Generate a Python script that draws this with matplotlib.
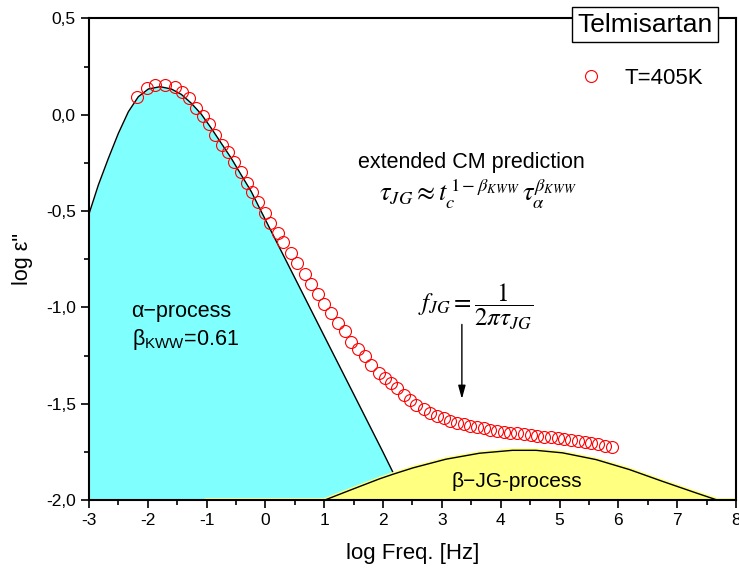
import matplotlib
matplotlib.use('Agg')
import matplotlib.pyplot as plt
from matplotlib.ticker import MultipleLocator, FuncFormatter

plt.rcParams['font.family'] = ['Liberation Sans', 'DejaVu Sans']
plt.rcParams['mathtext.fontset'] = 'stix'
# used only by the texts that ask for math_fontfamily='custom'
plt.rcParams['mathtext.rm'] = 'Liberation Sans'
plt.rcParams['mathtext.it'] = 'Liberation Sans'
plt.rcParams['mathtext.sf'] = 'Liberation Sans'

# --- measured points (T = 405 K) ---
log_f = [-2.19, -2.02, -1.87, -1.70, -1.54, -1.41, -1.30, -1.18, -1.06, -0.96,
         -0.85, -0.73, -0.64, -0.53, -0.41, -0.31, -0.22, -0.13, -0.01, 0.08,
         0.21, 0.30, 0.44, 0.54, 0.67, 0.78, 0.89, 1.00, 1.12, 1.23,
         1.35, 1.46, 1.57, 1.69, 1.80, 1.93, 2.03, 2.13, 2.23, 2.36,
         2.45, 2.56, 2.69, 2.80, 2.91, 3.03, 3.14, 3.25, 3.37, 3.48,
         3.59, 3.71, 3.82, 3.93, 4.05, 4.16, 4.28, 4.39, 4.51, 4.62,
         4.74, 4.85, 4.97, 5.08, 5.20, 5.31, 5.43, 5.54, 5.66, 5.78, 5.90]
log_eps = [0.094, 0.138, 0.155, 0.155, 0.143, 0.120, 0.089, 0.037, -0.005, -0.049,
           -0.105, -0.157, -0.195, -0.247, -0.299, -0.352, -0.403, -0.453, -0.510, -0.560,
           -0.612, -0.659, -0.719, -0.771, -0.827, -0.878, -0.930, -0.982, -1.031, -1.079,
           -1.123, -1.178, -1.218, -1.252, -1.299, -1.338, -1.367, -1.393, -1.420, -1.453,
           -1.481, -1.507, -1.529, -1.547, -1.562, -1.576, -1.588, -1.599, -1.607, -1.616,
           -1.623, -1.628, -1.637, -1.641, -1.645, -1.650, -1.654, -1.658, -1.662, -1.667,
           -1.671, -1.675, -1.680, -1.685, -1.690, -1.695, -1.700, -1.706, -1.711, -1.717, -1.723]

# --- alpha process (KWW) curve ---
alpha_f = [-3.0, -2.84, -2.67, -2.50, -2.33, -2.16, -1.99, -1.79, -1.60, -1.43,
           -1.26, -1.09, -0.92, -0.75, -0.58, -0.41, -0.24, -0.07, 0.5, 1.0,
           1.5, 2.0, 2.40]
alpha_eps = [-0.515, -0.364, -0.226, -0.096, 0.016, 0.094, 0.134, 0.146, 0.134, 0.106,
             0.060, 0.003, -0.070, -0.148, -0.226, -0.313, -0.399, -0.503, -0.847, -1.149,
             -1.450, -1.752, -2.0]

# --- beta JG process curve ---
jg_f = [-1.0, 1.01, 1.43, 1.71, 1.94, 2.17, 2.51, 3.07, 3.64, 4.20,
        4.60, 5.05, 5.62, 6.19, 6.75, 7.32, 7.68, 8.0]
jg_eps = [-2.0, -2.0, -1.950, -1.917, -1.890, -1.866, -1.833, -1.788, -1.757, -1.742,
          -1.742, -1.755, -1.790, -1.842, -1.903, -1.963, -2.0, -2.0]

fig = plt.figure(figsize=(7.39, 5.76), dpi=100)
ax = fig.add_axes([0.1204, 0.1319, 0.8755, 0.8360])

ax.fill_between(alpha_f, alpha_eps, -2, color='#80FFFF', lw=0, zorder=1)
ax.plot(alpha_f, alpha_eps, color='k', lw=1, zorder=2)
ax.fill_between(jg_f, jg_eps, -2, color='#FFFF80', lw=0, zorder=3)
ax.plot(jg_f, jg_eps, color='#FFFF80', lw=3, zorder=3)
ax.plot(jg_f[1:-1], jg_eps[1:-1], color='k', lw=1, zorder=4)
ax.plot(log_f, log_eps, 'o', mfc='none', mec='red', ms=8.6, mew=0.8,
        zorder=5, label='T=405K')

ax.set_xlim(-3, 8)
ax.set_ylim(-2, 0.5)
ax.xaxis.set_major_locator(MultipleLocator(1))
ax.xaxis.set_minor_locator(MultipleLocator(0.5))
ax.yaxis.set_major_locator(MultipleLocator(0.5))
ax.yaxis.set_minor_locator(MultipleLocator(0.25))
ax.xaxis.set_major_formatter(FuncFormatter(lambda v, p: f'{v:.0f}'))
ax.yaxis.set_major_formatter(FuncFormatter(lambda v, p: f'{v:.1f}'.replace('.', ',')))
ax.tick_params(which='both', direction='out', width=1.2, labelsize=12.5)
ax.tick_params(which='major', length=6)
ax.tick_params(which='minor', length=3.5)
for s in ax.spines.values():
    s.set_linewidth(1.5)
    s.set_zorder(6)

ax.set_xlabel('log Freq. [Hz]', fontsize=16, labelpad=11)
ax.set_ylabel('log ε"', fontsize=15.5, labelpad=9)

# annotations
ax.text(3.50, -0.276, 'extended CM prediction', fontsize=15.5, ha='center', va='baseline')
ax.text(3.62, -0.451, r'$\tau_{JG} \approx t_c^{\,1-\beta_{KWW}}\,\tau_\alpha^{\beta_{KWW}}$',
        fontsize=19, ha='center', va='baseline')
ax.text(3.58, -1.0, r'$f_{JG} = \dfrac{1}{2\pi\tau_{JG}}$', fontsize=18,
        ha='center', va='center')
ax.annotate('', xy=(3.34, -1.49), xytext=(3.34, -1.074),
            arrowprops=dict(arrowstyle='-|>,head_length=0.8,head_width=0.22',
                            color='k', lw=1))
ax.text(-2.275, -1.048, 'α−process', fontsize=15.5, va='baseline')
ax.text(-2.275, -1.195, r'$\mathrm{\beta}_{\mathrm{KWW}}$=0.61', fontsize=15.5,
        va='baseline', math_fontfamily='custom')
ax.text(4.27, -1.931, 'β−JG-process', fontsize=15, ha='center', va='baseline', zorder=7)

ax.text(0.859, 0.987, 'Telmisartan', transform=ax.transAxes, fontsize=19,
        ha='center', va='center', zorder=10, clip_on=False,
        bbox=dict(boxstyle='square,pad=0.2', fc='white', ec='black', lw=1))

ax.legend(loc='center right', bbox_to_anchor=(0.98, 0.876), frameon=False,
          fontsize=16, handlelength=1.0, handletextpad=1.0, borderpad=0.4)

fig.savefig('out.png', dpi=100)
